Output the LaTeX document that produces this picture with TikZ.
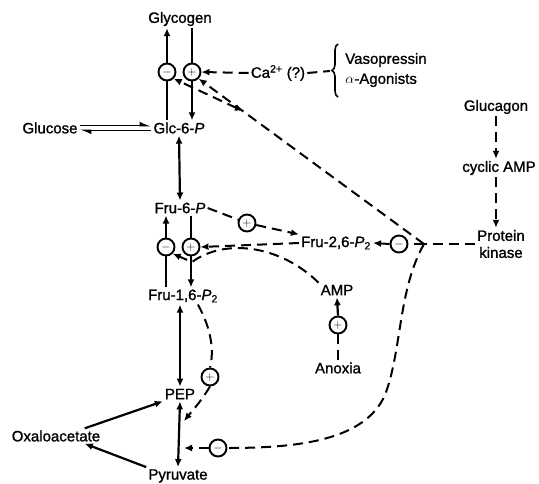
\documentclass[tikz,border=0pt]{standalone}
\usepackage{fontspec}
\setmainfont{Liberation Sans}[BoldFont=Liberation Sans, BoldFeatures={FakeBold=1.2}, BoldItalicFont=Liberation Sans Italic, BoldItalicFeatures={FakeBold=1.2}]
\usetikzlibrary{arrows.meta, decorations.pathreplacing}

\begin{document}
\begin{tikzpicture}[x=1pt, y=-1pt,
  lbl/.style={inner sep=2pt, font=\fontsize{15}{17}\selectfont\bfseries, align=center},
  reg/.style={circle, draw, line width=1.9pt, minimum size=17pt, inner sep=0pt, font=\fontsize{12}{12}\selectfont},
  solid line/.style={line width=2.2pt},
  arr/.style={-{Latex[length=8pt,width=7pt]}, line width=2.2pt},
  both/.style={{Latex[length=8pt,width=7pt]}-{Latex[length=8pt,width=7pt]}, line width=2.2pt},
  dsh/.style={line width=2pt, dash pattern=on 10pt off 6pt},
  darr/.style={dsh, -{Latex[length=8pt,width=7pt]}}
]
\useasboundingbox (0,0) rectangle (539,483);

% metabolites
\node[lbl] (glyc) at (180,19) {Glycogen};
\node[lbl] (glc) at (179,128) {Glc-6-\textit{P}};
\node[lbl] (gluc) at (50,128) {Glucose};
\node[lbl] (fru6) at (180,208) {Fru-6-\textit{P}};
\node[lbl] (fru16) at (183,296) {Fru-1,6-\textit{P}\textsubscript{2}};
\node[lbl] (pep) at (180,394) {PEP};
\node[lbl] (oxa) at (56,436) {Oxaloacetate};
\node[lbl] (pyr) at (178,476) {Pyruvate};
\node[lbl] (fru26) at (336,243) {Fru-2,6-\textit{P}\textsubscript{2}};
\node[lbl] (amp) at (337,290) {AMP};
\node[lbl] (anox) at (338,368) {Anoxia};

% signals
\node[lbl] (ca) at (278,73) {Ca\textsuperscript{2+} (?)};
\node[lbl, align=left] (horm) at (386,70) {Vasopressin\\[3pt]$\alpha$-Agonists};
\node[lbl] (glucg) at (496,107) {Glucagon};
\node[lbl] (camp) at (499,168) {cyclic AMP};
\node[lbl] (pk) at (501,244) {Protein\\kinase};

% regulation circles
\node[reg] (gm) at (167,72) {$-$};
\node[reg] (gp) at (192,72) {$+$};
\node[reg] (fm) at (166,247) {$-$};
\node[reg] (fp) at (191,247) {$+$};
\node[reg] (fpl) at (247,223) {$+$};
\node[reg] (km) at (399,244) {$-$};
\node[reg] (ampp) at (338,325) {$+$};
\node[reg] (pepp) at (210,377) {$+$};
\node[reg] (pyrm) at (218,448) {$-$};

\coordinate (jn) at (424,244);
\coordinate (jg) at (243,111);
\coordinate (brc) at (330,71);
\coordinate (onpp) at (184,421);

% glycogen cycle
\draw[solid line] (gm.south) -- (gm |- glc.north);
\draw[arr] (gm.north) -- (gm |- glyc.south);
\draw[solid line] (gp |- glyc.south) -- (gp.north);
\draw[arr] (gp.south) -- (gp |- glc.north);
\draw[line width=1.6pt, -{Latex[left,length=9pt,width=8pt]}] ([yshift=2.5pt]gluc.east) -- ([yshift=2.5pt]glc.west);
\draw[line width=1.6pt, -{Latex[left,length=9pt,width=8pt]}] ([yshift=-2.5pt]glc.west) -- ([yshift=-2.5pt]gluc.east);
\draw[both] (glc.south) -- (fru6.north);

% fructose cycle
\draw[solid line] (fm.south) -- (fm |- fru16.north);
\draw[arr] (fm.north) -- (fm |- fru6.south);
\draw[solid line] (fp |- fru6.south) -- (fp.north);
\draw[arr] (fp.south) -- (fp |- fru16.north);
\draw[both] (fru16.south -| pep) -- (pep.north);
\draw[both] (pep.south) -- (pyr.north);
\draw[arr] (oxa.15) -- (pep.south west);
\draw[arr] (pyr.north west) -- (oxa.-15);

% hormones
\draw[darr] (ca.west) -- (gp.east);
\draw[dsh] (ca.east) -- (brc);
\draw[line width=1.6pt, decorate, decoration={brace, amplitude=6pt}] (338,97) -- (338,44);
\draw[darr] (glucg.south) -- (glucg.south |- camp.north);
\draw[darr] (glucg |- camp.south) -- (glucg |- pk.north);

% protein kinase effects
\draw[dsh] (pk.west) -- (jn);
\draw[dsh] (jn) -- (km.east);
\draw[darr] (km.west) -- (fru26.east);
\draw[darr] (jn) -- (gp.south east);
\draw[dsh, {Latex[length=8pt,width=7pt]}-{Latex[length=8pt,width=7pt]}] (jg) -- (gm.south east);
\draw[dsh] (jn) .. controls (398,290) and (402,350) .. (385,395) .. controls (365,440) and (300,448) .. (pyrm.east);
\draw[darr] (pyrm.west) -- (pyrm -| onpp);

% effectors
\draw[dsh] (fru6.east) -- (fpl);
\draw[darr] (fpl) -- (fru26.north west);
\draw[darr] (fru26.west) -- (fp.east);
\draw[dsh] (anox.north) -- (ampp.south);
\draw[arr] (ampp.north) -- (amp.south);
\draw[darr] (amp.north west) .. controls (280,245) and (225,238) .. (192,262) -- (fm.south east);
\draw[dsh] (fru16.-30) .. controls (212,330) and (214,352) .. (pepp.north);
\draw[darr] (pepp.south) .. controls (202,400) and (193,410) .. (onpp);
\end{tikzpicture}
\end{document}
